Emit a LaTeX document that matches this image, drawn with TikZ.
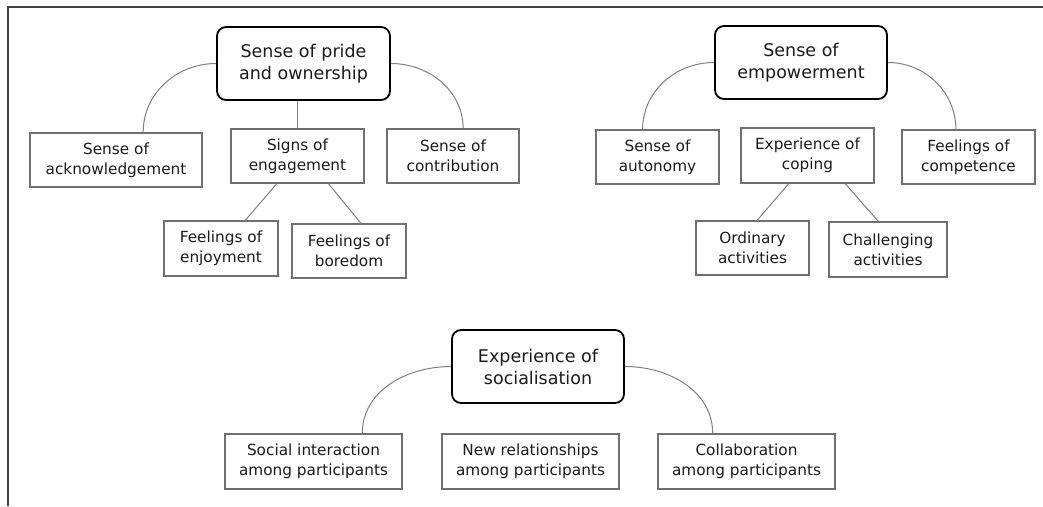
\documentclass[tikz,border=0pt]{standalone}
\usepackage{fontspec}
\setmainfont{DejaVu Sans}
\usetikzlibrary{calc}
\definecolor{boxgray}{HTML}{707070}
\definecolor{linegray}{HTML}{808080}
\definecolor{txt}{HTML}{1A1A1A}
\tikzset{
  rootbox/.style={draw=black, line width=1.8pt, rounded corners=9pt, align=center, text=txt,
    font=\fontsize{17.5}{22}\selectfont, inner sep=0pt, minimum height=73pt},
  leafbox/.style={draw=boxgray, line width=1.1pt, align=center, text=txt,
    font=\fontsize{15.3}{20}\selectfont, inner sep=0pt, minimum height=54pt},
  conn/.style={draw=linegray, line width=1pt},
  frameline/.style={draw=black!75, line width=1.3pt}
}
\begin{document}
\begin{tikzpicture}[x=1pt,y=-1pt]
\useasboundingbox (0,0) rectangle (1043,506);
\coordinate (fb) at (8,506);
\coordinate (fc) at (8,7);
\coordinate (fr) at (1043,7);
\draw[frameline] (fb) -- (fc) -- (fr);

% group 1
\node[rootbox, minimum width=173pt] (r1) at (303.5,63.5) {Sense of pride\\and ownership};
\node[leafbox, minimum width=172pt] (a1) at (116,160) {Sense of\\acknowledgement};
\node[leafbox, minimum width=133pt] (a2) at (297.5,156) {Signs of\\engagement};
\node[leafbox, minimum width=132pt] (a3) at (453,156) {Sense of\\contribution};
\node[leafbox, minimum width=114pt, minimum height=55pt] (a4) at (221,248.5) {Feelings of\\enjoyment};
\node[leafbox, minimum width=114pt] (a5) at (349,251) {Feelings of\\boredom};

\draw[conn] (r1.west) to[out=180,in=90] ($(a1.north west)!0.657!(a1.north east)$);
\draw[conn] (r1.east) to[out=0,in=90] ($(a3.north west)!0.576!(a3.north east)$);
\draw[conn] (a2.north) -- (a2.north |- r1.south);
\draw[conn] ($(a2.south west)!0.346!(a2.south east)$) -- ($(a4.north west)!0.71!(a4.north east)$);
\draw[conn] ($(a2.south west)!0.73!(a2.south east)$) -- ($(a5.north west)!0.605!(a5.north east)$);

% group 2
\node[rootbox, minimum width=172pt] (r2) at (801,62.5) {Sense of\\empowerment};
\node[leafbox, minimum width=123pt] (b1) at (657.5,157) {Sense of\\autonomy};
\node[leafbox, minimum width=133pt, minimum height=55pt] (b2) at (807.5,155.5) {Experience of\\coping};
\node[leafbox, minimum width=133pt] (b3) at (968.5,157) {Feelings of\\competence};
\node[leafbox, minimum width=113pt] (b4) at (752.5,248) {Ordinary\\activities};
\node[leafbox, minimum width=118pt, minimum height=55pt] (b5) at (888,249.5) {Challenging\\activities};

\draw[conn] (r2.west) to[out=180,in=90] ($(b1.north west)!0.38!(b1.north east)$);
\draw[conn] (r2.east) to[out=0,in=90] ($(b3.north west)!0.406!(b3.north east)$);
\draw[conn] ($(r2.south)+(3,0)$) -- ($(r2.south)+(3,0)$ |- b2.north);
\draw[conn] ($(b2.south west)!0.36!(b2.south east)$) -- ($(b4.north west)!0.54!(b4.north east)$);
\draw[conn] ($(b2.south west)!0.78!(b2.south east)$) -- ($(b5.north west)!0.42!(b5.north east)$);

% group 3
\node[rootbox, minimum width=172pt] (r3) at (538,366.5) {Experience of\\socialisation};
\node[leafbox, minimum width=177pt, minimum height=55pt] (c1) at (313.5,461.5) {Social interaction\\among participants};
\node[leafbox, minimum width=177pt, minimum height=55pt] (c2) at (530.5,461.5) {New relationships\\among participants};
\node[leafbox, minimum width=177pt, minimum height=55pt] (c3) at (746.5,461.5) {Collaboration\\among participants};

\draw[conn] (r3.west) to[out=180,in=90] ($(c1.north west)!0.774!(c1.north east)$);
\draw[conn] (r3.east) to[out=0,in=90] ($(c3.north west)!0.31!(c3.north east)$);
\draw[conn] ($(r3.south)+(-4,0)$) -- ($(r3.south)+(-4,0)$ |- c2.north);
\end{tikzpicture}
\end{document}
